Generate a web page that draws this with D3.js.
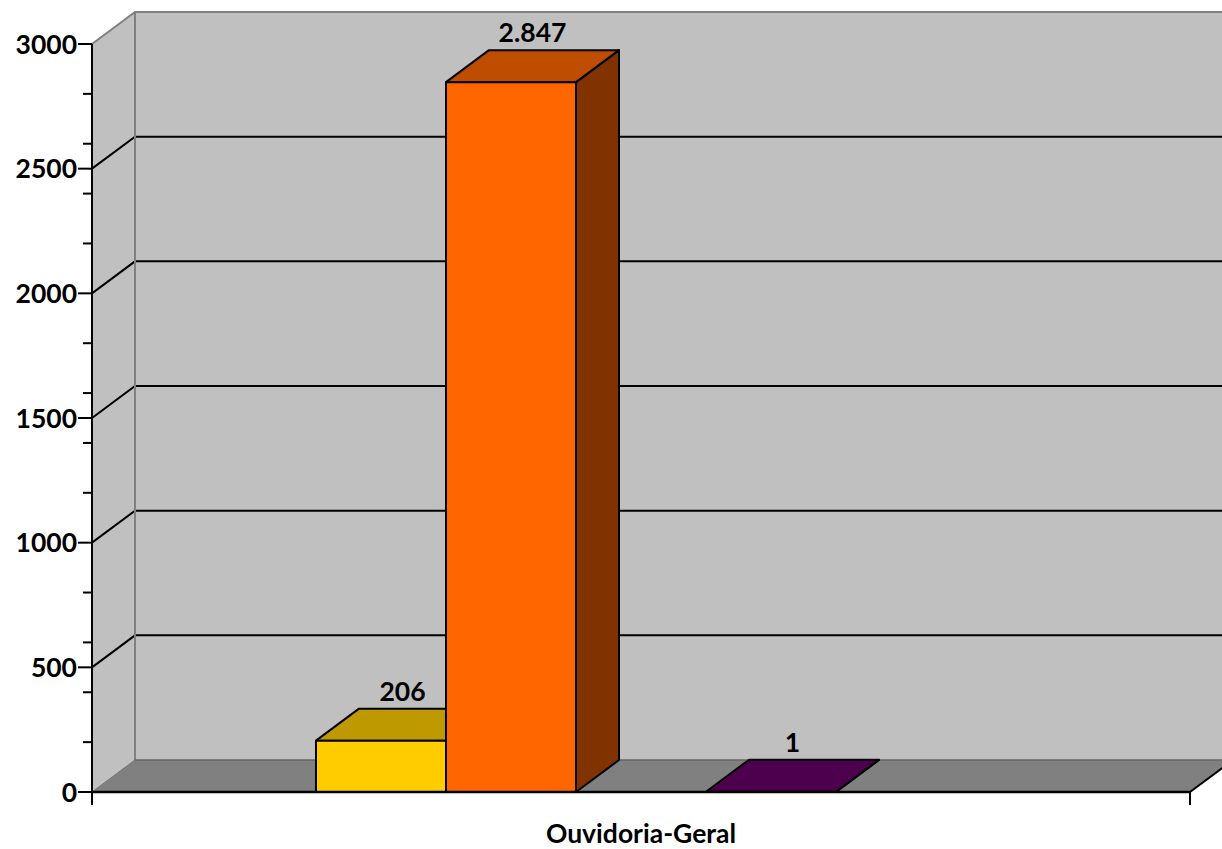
<!DOCTYPE html>
<html><head><meta charset="utf-8">
<script src="https://cdn.jsdelivr.net/npm/d3@7"></script>
<style>html,body{margin:0;padding:0;background:#fff;}svg{display:block;}</style>
</head><body>
<svg id="chart" width="1222" height="849"></svg>
<script>
const categories = ["Ouvidoria-Geral"];
const seriesNames = ["Série 1", "Série 2", "Série 3", "Série 4", "Série 5"];
const seriesValues = [206, 2847, null, 1, null];
const valueLabels = ["206", "2.847", "", "1", ""];
const seriesColors = ["#FFCC00", "#FF6600", "#993366", "#660066", "#CCFFFF"];
const yTicks = [0, 500, 1000, 1500, 2000, 2500, 3000];
const yMinorTicks = [200, 400, 600, 800, 1200, 1400, 1600, 1800, 2200, 2400, 2600, 2800];

(function () {
const svg = d3.select("#chart");
const W = 1222;
const pLeft = 92, pRight = 1190, pTop = 44, pBottom = 792;
const dx = 43, dy = -32;
const font = "Lato, 'Open Sans', sans-serif";
const fs = 26.5;

const y = d3.scaleLinear().domain([0, 3000]).range([pBottom, pTop]);
const xCat = d3.scaleBand().domain(categories).range([pLeft, pRight]).padding(0);
const xSer = d3.scaleBand().domain(d3.range(seriesNames.length))
  .range([xCat(categories[0]), xCat(categories[0]) + xCat.bandwidth()])
  .paddingInner(0).paddingOuter(1.723);

const poly = pts => "M" + pts.map(p => p.join(",")).join("L") + "Z";

// back wall
svg.append("path").attr("d", poly([[pLeft+dx, pTop+dy],[W+5, pTop+dy],[W+5, pBottom+dy],[pLeft+dx, pBottom+dy]]))
  .attr("fill", "#C0C0C0");
// side wall
svg.append("path").attr("d", poly([[pLeft, pTop],[pLeft+dx, pTop+dy],[pLeft+dx, pBottom+dy],[pLeft, pBottom]]))
  .attr("fill", "#C0C0C0");
// floor
svg.append("path").attr("d", poly([[pLeft, pBottom],[pRight, pBottom],[pRight+dx, pBottom+dy],[pLeft+dx, pBottom+dy]]))
  .attr("fill", "#808080");

// gridlines (back wall + side wall)
const grid = svg.append("g");
yTicks.filter(t => t > 0 && t < 3000).forEach(t => {
  grid.append("path").attr("d", `M${pLeft},${y(t)}L${pLeft+dx},${y(t)+dy}L${W+5},${y(t)+dy}`)
    .attr("fill", "none").attr("stroke", "#000").attr("stroke-width", 2);
});
// wall edges
svg.append("path").attr("d", `M${pLeft},${y(3000)}L${pLeft+dx},${y(3000)+dy}L${W+5},${y(3000)+dy}`)
  .attr("fill", "none").attr("stroke", "#808080").attr("stroke-width", 2);
svg.append("path").attr("d", `M${pLeft+dx},${y(3000)+dy}L${pLeft+dx},${pBottom+dy}`)
  .attr("fill", "none").attr("stroke", "#808080").attr("stroke-width", 2);
svg.append("path").attr("d", `M${pLeft+dx},${pBottom+dy}L${W+5},${pBottom+dy}`)
  .attr("fill", "none").attr("stroke", "#666").attr("stroke-width", 1.5);
svg.append("path").attr("d", `M${pLeft},${pBottom}L${pLeft+dx},${pBottom+dy}`)
  .attr("fill", "none").attr("stroke", "#707070").attr("stroke-width", 1);
svg.append("path").attr("d", `M${pRight},${pBottom}L${pRight+dx},${pBottom+dy}`)
  .attr("fill", "none").attr("stroke", "#000").attr("stroke-width", 2);

// bars
const shade = (c, k) => { const r = d3.rgb(c); return d3.rgb(r.r*k, r.g*k, r.b*k).formatHex(); };
const bars = svg.append("g");
seriesValues.forEach((v, i) => {
  if (v === null) return;
  const x0 = xSer(i), x1 = x0 + xSer.bandwidth();
  const yt = y(v), yb = y(0);
  const c = seriesColors[i];
  const g = bars.append("g").attr("stroke", "#000").attr("stroke-width", 2).attr("stroke-linejoin", "round");
  g.append("path").attr("d", poly([[x1, yt],[x1+dx, yt+dy],[x1+dx, yb+dy],[x1, yb]])).attr("fill", shade(c, 0.5));
  g.append("path").attr("d", poly([[x0, yt],[x0+dx, yt+dy],[x1+dx, yt+dy],[x1, yt]])).attr("fill", shade(c, 0.75));
  if (yb - yt > 0.5)
    g.append("path").attr("d", poly([[x0, yt],[x1, yt],[x1, yb],[x0, yb]])).attr("fill", c);
});

// axes
const axisG = svg.append("g");
axisG.append("line").attr("x1", pLeft).attr("x2", pLeft).attr("y1", pTop).attr("y2", pBottom + 13)
  .attr("stroke", "#000").attr("stroke-width", 2);
axisG.append("line").attr("x1", pLeft).attr("x2", pRight).attr("y1", pBottom).attr("y2", pBottom)
  .attr("stroke", "#000").attr("stroke-width", 2.5);
axisG.append("line").attr("x1", pRight).attr("x2", pRight).attr("y1", pBottom).attr("y2", pBottom + 13)
  .attr("stroke", "#000").attr("stroke-width", 2);
yTicks.forEach(t => {
  axisG.append("line").attr("x1", pLeft - 14).attr("x2", pLeft).attr("y1", y(t)).attr("y2", y(t))
    .attr("stroke", "#000").attr("stroke-width", 2);
  axisG.append("text").attr("x", pLeft - 15).attr("y", y(t)).attr("dy", "0.36em")
    .attr("text-anchor", "end").attr("font-family", font).attr("font-weight", "bold")
    .attr("font-size", fs).text(t);
});
yMinorTicks.forEach(t => {
  axisG.append("line").attr("x1", pLeft - 9).attr("x2", pLeft).attr("y1", y(t)).attr("y2", y(t))
    .attr("stroke", "#000").attr("stroke-width", 2);
});

// category label
svg.append("text").attr("x", xCat(categories[0]) + xCat.bandwidth() / 2).attr("y", 843)
  .attr("text-anchor", "middle").attr("font-family", font).attr("font-weight", "bold")
  .attr("font-size", fs).text(categories[0]);

// value labels
seriesValues.forEach((v, i) => {
  if (v === null) return;
  const cx = xSer(i) + xSer.bandwidth() / 2 + dx / 2;
  svg.append("text").attr("x", cx).attr("y", y(v) + dy - 8)
    .attr("text-anchor", "middle").attr("font-family", font).attr("font-weight", "bold")
    .attr("font-size", fs).text(valueLabels[i]);
});
})();
</script>
</body></html>
